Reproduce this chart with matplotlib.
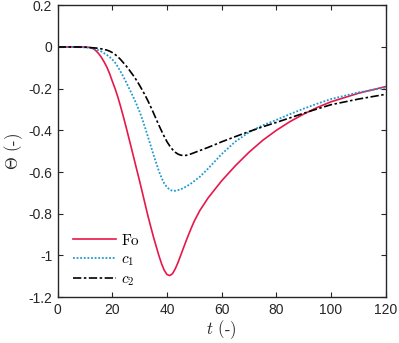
"""
Theta vs t for Fo, c1 and c2
"""
import matplotlib
matplotlib.use("Agg")
import matplotlib.pyplot as plt

plt.rcParams['mathtext.fontset'] = 'cm'
plt.rcParams['font.family'] = ['Liberation Sans', 'DejaVu Sans']

# values
t = [0, 4, 8, 10, 11, 12, 13, 14, 15, 16, 17, 18, 19, 20, 21, 22, 23, 24, 25,
     26, 27, 28, 29, 30, 31, 32, 33, 34, 35, 36, 37, 38, 39, 40, 41, 42, 43,
     44, 45, 46, 47, 48, 49, 50, 52, 55, 58, 60, 65, 70, 75, 80, 85, 90, 95,
     100, 110, 120]
fo = [0, 0, 0, 0, -0.001, -0.003, -0.008, -0.018, -0.032, -0.05, -0.072,
      -0.097, -0.128, -0.165, -0.20, -0.24, -0.285, -0.333, -0.383, -0.435,
      -0.487, -0.54, -0.593, -0.645, -0.70, -0.755, -0.81, -0.86, -0.91,
      -0.955, -1.0, -1.04, -1.072, -1.092, -1.097, -1.088, -1.065, -1.035,
      -1.0, -0.965, -0.93, -0.897, -0.865, -0.835, -0.785, -0.725, -0.675,
      -0.642, -0.57, -0.505, -0.448, -0.40, -0.358, -0.322, -0.29, -0.263,
      -0.222, -0.19]
c1 = [0, 0, -0.001, -0.002, -0.003, -0.005, -0.008, -0.011, -0.016, -0.022,
      -0.03, -0.038, -0.048, -0.06, -0.075, -0.095, -0.118, -0.142, -0.168,
      -0.195, -0.222, -0.25, -0.28, -0.312, -0.348, -0.388, -0.43, -0.472,
      -0.515, -0.555, -0.595, -0.628, -0.655, -0.673, -0.685, -0.69, -0.69,
      -0.687, -0.683, -0.677, -0.67, -0.662, -0.653, -0.643, -0.623, -0.584,
      -0.542, -0.514, -0.454, -0.409, -0.376, -0.35, -0.322, -0.296, -0.272,
      -0.25, -0.218, -0.195]
c2 = [0, 0, 0, -0.001, -0.002, -0.003, -0.004, -0.005, -0.007, -0.009,
      -0.012, -0.015, -0.02, -0.027, -0.036, -0.047, -0.06, -0.075, -0.09,
      -0.107, -0.125, -0.143, -0.163, -0.185, -0.208, -0.232, -0.258, -0.286,
      -0.315, -0.345, -0.375, -0.403, -0.43, -0.455, -0.475, -0.492, -0.505,
      -0.514, -0.519, -0.521, -0.52, -0.517, -0.512, -0.507, -0.497, -0.482,
      -0.466, -0.455, -0.43, -0.406, -0.383, -0.362, -0.34, -0.318, -0.297,
      -0.277, -0.25, -0.227]

fig = plt.figure(figsize=(3.99, 3.43), dpi=100)
ax = fig.add_axes([0.1446, 0.134, 0.822, 0.8505])

ax.plot(t, fo, color='#e8174a', lw=1.2, label=r'$\mathrm{Fo}$')
ax.plot(t, c1, color='#1d9ad0', lw=1.3, ls=(0, (1, 1)), label=r'$c_1$')
ax.plot(t, c2, color='k', lw=1.2, ls=(0, (5, 1.5, 1.5, 1.5)), label=r'$c_2$')

ax.set_xlim(0, 120)
ax.set_ylim(-1.2, 0.2)
ax.set_xticks([0, 20, 40, 60, 80, 100, 120])
ax.set_yticks([-1.2, -1, -0.8, -0.6, -0.4, -0.2, 0, 0.2])
ax.set_yticklabels(['-1.2', '-1', '-0.8', '-0.6', '-0.4', '-0.2', '0', '0.2'])
ax.tick_params(direction='in', top=True, right=True, length=3.5, width=0.8,
               labelsize=10, colors='#262626', pad=4)
for s in ax.spines.values():
    s.set_color('#262626')
    s.set_linewidth(1.0)

ax.set_xlabel(r'$t$ (-)', fontsize=12, color='#262626', labelpad=1,
              family='cmr10')
ax.set_ylabel(r'$\Theta$ (-)', fontsize=12, color='#262626', labelpad=2,
              family='cmr10')

ax.legend(loc='lower left', frameon=False, fontsize=11, handlelength=2.8,
          handletextpad=0.3, labelspacing=0.3, borderaxespad=0.2,
          bbox_to_anchor=(0.02, 0.0))

fig.savefig('out.png', dpi=100)
